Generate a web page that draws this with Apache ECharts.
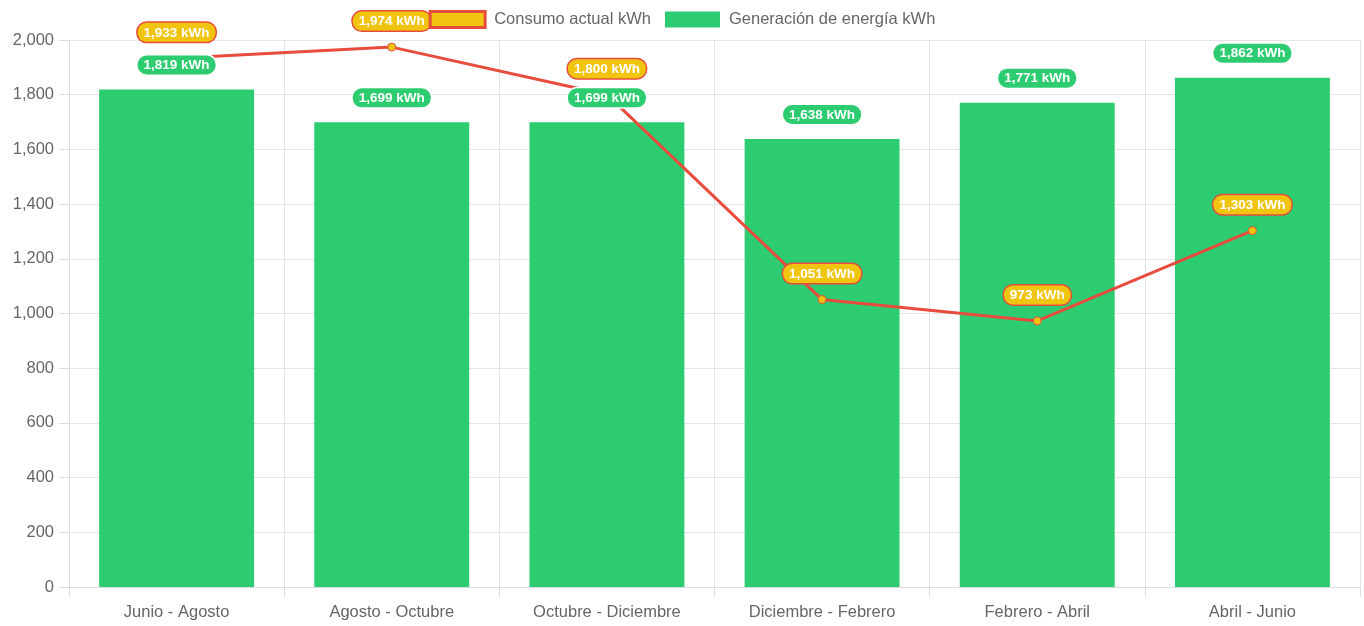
<!DOCTYPE html>
<html><head><meta charset="utf-8">
<script src="https://cdn.jsdelivr.net/npm/echarts@6/dist/echarts.min.js"></script>
<style>html,body{margin:0;padding:0;background:#fff}#c{width:1364px;height:626px}</style>
</head><body><div id="c"></div>
<script>
const categories = ['Junio - Agosto','Agosto - Octubre','Octubre - Diciembre','Diciembre - Febrero','Febrero - Abril','Abril - Junio'];
const consumo = [1933, 1974, 1800, 1051, 973, 1303];
const generacion = [1819, 1699, 1699, 1638, 1771, 1862];
const seriesNames = ['Consumo actual kWh', 'Generación de energía kWh'];

const fmt = p => p.value.toLocaleString('en-US') + ' kWh';
const lbl = (bg, border, dist) => ({show: true, position: 'top', distance: dist, formatter: fmt,
  color: '#fff', fontWeight: 'bold', fontSize: 13.5, fontFamily: 'Liberation Sans, Arial, sans-serif',
  backgroundColor: bg, borderColor: border, borderWidth: 1.5,
  borderRadius: 9, padding: [3, 6, 2, 6]});
const chart = echarts.init(document.getElementById('c'));
chart.setOption({
  animation: false,
  textStyle: {fontFamily: 'Liberation Sans, Arial, sans-serif'},
  legend: {
    top: 5, left: 'center', itemWidth: 55, itemHeight: 16, itemGap: 14,
    textStyle: {color: '#666', fontSize: 16.5, padding: [0, 0, 0, 4]},
    data: [
      {name: seriesNames[0], icon: 'rect', itemStyle: {color: '#f1c40f', borderColor: '#e74c3c', borderWidth: 3}},
      {name: seriesNames[1], icon: 'rect', itemStyle: {color: '#2ecc71'}}
    ]
  },
  grid: {left: 69, right: 4, top: 40, bottom: 39, containLabel: false},
  xAxis: {
    type: 'category', data: categories, boundaryGap: true,
    axisLine: {lineStyle: {color: '#ddd'}},
    axisTick: {show: true, length: 10, lineStyle: {color: '#ddd'}},
    axisLabel: {color: '#666', fontSize: 16.5, margin: 17},
    splitLine: {show: true, lineStyle: {color: '#e5e5e5'}}
  },
  yAxis: {
    type: 'value', min: 0, max: 2000, interval: 200,
    axisLine: {show: true, lineStyle: {color: '#ddd'}},
    axisTick: {show: true, length: 10, lineStyle: {color: '#ddd'}},
    axisLabel: {color: '#666', fontSize: 16.5, margin: 15, formatter: v => v.toLocaleString('en-US')},
    splitLine: {show: true, lineStyle: {color: '#e5e5e5'}}
  },
  series: [
    {
      name: seriesNames[1], type: 'bar', data: generacion, barWidth: '72%',
      itemStyle: {color: '#2ecc71'}, z: 2
    },
    {
      name: seriesNames[0], type: 'line', data: consumo, z: 3,
      symbol: 'circle', symbolSize: 8,
      lineStyle: {color: '#e74c3c', width: 3},
      itemStyle: {color: '#f1c40f', borderColor: '#e74c3c', borderWidth: 1},
      label: lbl('#f1c40f', '#e74c3c', 12)
    },
    {
      name: 'genLabels', type: 'bar', data: generacion, barWidth: '72%', barGap: '-100%',
      itemStyle: {color: 'rgba(0,0,0,0)'}, z: 5, silent: true, legendHoverLink: false,
      label: lbl('#2ecc71', '#fff', 15)
    }
  ]
});
</script></body></html>
